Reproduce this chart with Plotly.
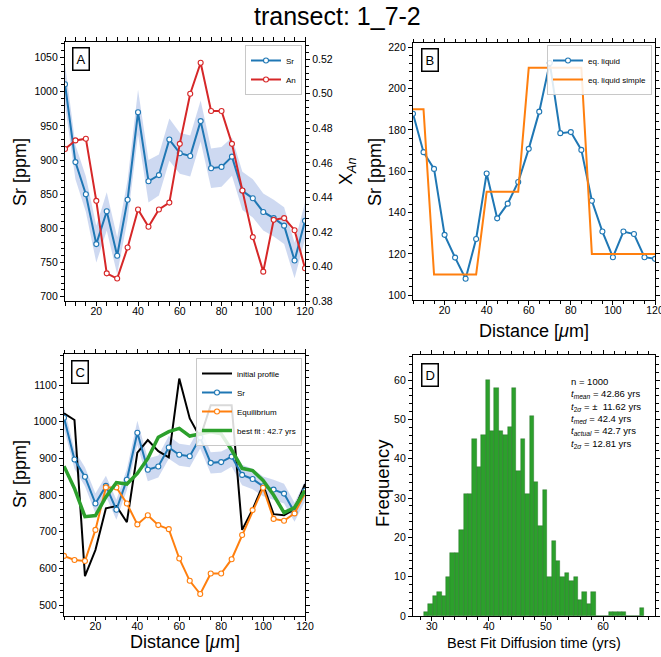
import plotly.graph_objects as go

W, H = 661, 657
FONT = "Liberation Sans, Arial, Helvetica, sans-serif"

# ---------------- data ----------------
distance = [5, 10, 15, 20, 25, 30, 35, 40, 45, 50, 55, 60,
            65, 70, 75, 80, 85, 90, 95, 100, 105, 110, 115, 120]

sr = [1011, 897, 850, 777, 825, 760, 842, 970, 869, 878, 930, 910,
      906, 957, 888, 890, 905, 855, 844, 824, 815, 804, 753, 811]
sr_err = [30, 25, 26, 27, 28, 27, 29, 33, 31, 30, 31, 30,
          30, 30, 29, 29, 28, 28, 28, 27, 27, 27, 26, 27]

an = [0.468, 0.473, 0.474, 0.438, 0.396, 0.393, 0.411, 0.433, 0.423, 0.433, 0.437, 0.471,
      0.500, 0.518, 0.490, 0.490, 0.471, 0.444, 0.417, 0.397, 0.427, 0.428, 0.421, 0.399]

eq_liquid = [187.8, 169.2, 161.1, 129.2, 118.2, 108.0, 127.2, 158.9, 137.2, 144.3, 154.8, 170.8,
             188.8, 212.3, 178.4, 178.9, 170.3, 145.7, 130.8, 118.4, 130.8, 129.6, 118.4, 117.6]
eq_liquid_simple = [190, 190, 110, 110, 110, 110, 110, 150, 150, 150, 150, 210,
                    210, 210, 210, 210, 210, 120, 120, 120, 120, 120, 120, 120]

initial_profile = [1023, 1005, 579, 650, 764, 770, 726, 916, 950, 920, 903, 1118,
                   1009, 957, 1045, 1045, 1045, 705, 761, 828, 748, 745, 761, 830]
equilibrium = [634, 623, 620, 705, 821, 821, 777, 720, 745, 718, 707, 627,
               566, 530, 586, 586, 625, 691, 759, 820, 735, 730, 750, 805]
best_fit = [879, 818, 741, 744, 795, 834, 830, 859, 900, 958, 973, 982,
            961, 966, 973, 967, 923, 873, 867, 840, 800, 752, 766, 812]

hist_counts = [1, 3, 5, 6, 5, 10, 16, 16, 22, 31, 31, 45, 38, 46, 60, 47, 58, 47, 46, 48,
               58, 37, 45, 31, 51, 34, 23, 32, 10, 19, 14, 10, 11, 9, 10, 4, 6, 3, 6, 0,
               0, 0, 1, 1, 1, 1, 0, 0, 0, 2]
hist_min, hist_max = 28.64, 67.17

stats_lines = ["n = 1000",
               "<i>t</i><sub><i>mean</i></sub> = 42.86 yrs",
               "<i>t</i><sub>2<i>σ</i></sub> = \u00b1  11.62 yrs",
               "<i>t</i><sub><i>med</i></sub> = 42.4 yrs",
               "<i>t</i><sub><i>actual</i></sub> = 42.7 yrs",
               "<i>t</i><sub>2<i>σ</i></sub> = 12.81 yrs"]

BLUE, RED, ORANGE, GREEN = "#1f77b4", "#d62728", "#ff7f0e", "#2ca02c"
BAND = "rgba(120,150,215,0.36)"


def px(x):
    return x / W


def py(y):
    return 1 - y / H


sr_up = [v + e for v, e in zip(sr, sr_err)]
sr_lo = [v - e for v, e in zip(sr, sr_err)]
band_x = distance + distance[::-1]
band_y = sr_up + sr_lo[::-1]

nb = len(hist_counts)
bw = (hist_max - hist_min) / nb
hist_centers = [hist_min + (i + 0.5) * bw for i in range(nb)]


def mk(color):
    return dict(symbol="circle", size=5, color="white", line=dict(color=color, width=1.1))


fig = go.Figure()

# ---- Panel A ----
fig.add_trace(go.Scatter(x=band_x, y=band_y, fill="toself", fillcolor=BAND, line=dict(width=0),
                         mode="lines", showlegend=False, hoverinfo="skip", xaxis="x", yaxis="y"))
fig.add_trace(go.Scatter(x=distance, y=sr, mode="lines+markers", name="Sr",
                         line=dict(color=BLUE, width=2), marker=mk(BLUE),
                         xaxis="x", yaxis="y", legend="legend"))
fig.add_trace(go.Scatter(x=distance, y=an, mode="lines+markers", name="An",
                         line=dict(color=RED, width=2), marker=mk(RED),
                         xaxis="x", yaxis="y2", legend="legend"))

# ---- Panel B ----
fig.add_trace(go.Scatter(x=distance, y=eq_liquid, mode="lines+markers", name="eq. liquid",
                         line=dict(color=BLUE, width=2), marker=mk(BLUE),
                         xaxis="x2", yaxis="y3", legend="legend2"))
fig.add_trace(go.Scatter(x=distance, y=eq_liquid_simple, mode="lines", name="eq. liquid simple",
                         line=dict(color=ORANGE, width=2),
                         xaxis="x2", yaxis="y3", legend="legend2"))

# ---- Panel C ----
fig.add_trace(go.Scatter(x=band_x, y=band_y, fill="toself", fillcolor=BAND, line=dict(width=0),
                         mode="lines", showlegend=False, hoverinfo="skip", xaxis="x3", yaxis="y4"))
fig.add_trace(go.Scatter(x=distance, y=initial_profile, mode="lines", name="initial profile",
                         line=dict(color="black", width=2),
                         xaxis="x3", yaxis="y4", legend="legend3"))
fig.add_trace(go.Scatter(x=distance, y=sr, mode="lines+markers", name="Sr",
                         line=dict(color=BLUE, width=2), marker=mk(BLUE),
                         xaxis="x3", yaxis="y4", legend="legend3"))
fig.add_trace(go.Scatter(x=distance, y=equilibrium, mode="lines+markers", name="Equilibrium",
                         line=dict(color=ORANGE, width=2), marker=mk(ORANGE),
                         xaxis="x3", yaxis="y4", legend="legend3"))
fig.add_trace(go.Scatter(x=distance, y=best_fit, mode="lines", name="best fit : 42.7 yrs",
                         line=dict(color=GREEN, width=3.5),
                         xaxis="x3", yaxis="y4", legend="legend3"))

# ---- Panel D ----
fig.add_trace(go.Bar(x=hist_centers, y=hist_counts, width=bw,
                     marker=dict(color=GREEN, line=dict(color="rgba(20,90,20,0.55)", width=0.6)),
                     showlegend=False, xaxis="x4", yaxis="y5"))

axis_common = dict(showline=True, linecolor="black", linewidth=1.2, ticks="outside", ticklen=4,
                   tickwidth=1, tickcolor="black", showgrid=False, zeroline=False,
                   tickfont=dict(size=10.5, color="black", family=FONT), automargin=False,
                   ticklabeloverflow="allow")
xaxis_common = dict(axis_common, ticklabelstandoff=-4)


def minor(dt):
    return dict(dtick=dt, ticks="outside", ticklen=2.5, tickwidth=0.8, tickcolor="black", showgrid=False)


# pixel frames
A = (65, 305, 42, 301)
B = (413, 655, 43, 300)
C = (64, 305, 354, 616)
D = (413, 655, 355, 616)


def dx(f):
    return [px(f[0]), px(f[1])]


def dy(f):
    return [py(f[3]), py(f[2])]


legend_common = dict(font=dict(size=8, family=FONT, color="black"), bgcolor="rgba(255,255,255,0.85)",
                     bordercolor="#c8c8c8", borderwidth=1, xanchor="right", yanchor="top",
                     itemwidth=30, tracegroupgap=0)

fig.update_layout(
    width=W, height=H, margin=dict(l=0, r=0, t=0, b=0),
    paper_bgcolor="white", plot_bgcolor="white",
    font=dict(family=FONT, color="black"),
    bargap=0,
    xaxis=dict(domain=dx(A), anchor="y", range=[5, 120], dtick=20, minor=minor(5), mirror="allticks", **xaxis_common),
    yaxis=dict(domain=dy(A), anchor="x", range=[693.7, 1072.8], dtick=50, minor=minor(10), mirror=False, **axis_common),
    yaxis2=dict(overlaying="y", side="right", anchor="x", range=[0.380, 0.530], dtick=0.02,
                tickformat=".2f", minor=minor(0.004), **axis_common),
    xaxis2=dict(domain=dx(B), anchor="y3", range=[5, 120], dtick=20, minor=minor(5), mirror="allticks", **xaxis_common),
    yaxis3=dict(domain=dy(B), anchor="x2", range=[97.7, 222], dtick=20, minor=minor(4), mirror="allticks", **axis_common),
    xaxis3=dict(domain=dx(C), anchor="y4", range=[5, 120], dtick=20, minor=minor(5), mirror="allticks", **xaxis_common),
    yaxis4=dict(domain=dy(C), anchor="x3", range=[470, 1185], dtick=100, minor=minor(20), mirror="allticks", **axis_common),
    xaxis4=dict(domain=dx(D), anchor="y5", range=[26.71, 69.1], dtick=10, minor=minor(2), mirror="allticks", **xaxis_common),
    yaxis5=dict(domain=dy(D), anchor="x4", range=[0, 66.4], dtick=10, minor=minor(2), mirror="allticks", **axis_common),
    legend=dict(x=px(302), y=py(45), **legend_common),
    legend2=dict(x=px(652), y=py(45), **legend_common),
    legend3=dict(x=px(302), y=py(358), **legend_common),
)

ann = []


def label(text, cx, cy, size, angle=0):
    ann.append(dict(text=text, x=px(cx), y=py(cy), xref="paper", yref="paper", showarrow=False,
                    xanchor="center", yanchor="middle", textangle=angle,
                    font=dict(size=size, family=FONT, color="black")))


label("transect: 1_7-2", 337, 16, 25)
label("Sr [ppm]", 20, 172, 18, -90)
label("X<sub><i>An</i></sub>", 347, 172, 18, -90)
label("Sr [ppm]", 375, 172, 18, -90)
label("Distance [<i>μ</i>m]", 534, 331, 18)
label("Sr [ppm]", 20, 474, 18, -90)
label("Distance [<i>μ</i>m]", 185, 642, 18)
label("Frequency", 382, 483, 18.5, -90)
label("Best Fit Diffusion time (yrs)", 534, 643, 14.5)

for t, cx, cy in [("A", 80.5, 59.5), ("B", 430, 60), ("C", 80, 372), ("D", 430, 375)]:
    ann.append(dict(text=t, x=px(cx), y=py(cy), xref="paper", yref="paper", showarrow=False,
                    xanchor="center", yanchor="middle", font=dict(size=13, family=FONT, color="black"),
                    bordercolor="black", borderwidth=1.5, borderpad=3, bgcolor="white"))

ann.append(dict(text="<br>".join(stats_lines), x=px(569), y=py(374), xref="paper", yref="paper",
                showarrow=False, xanchor="left", yanchor="top", align="left",
                font=dict(size=9.5, family=FONT, color="black")))

fig.update_layout(annotations=ann)
fig.write_html("out.html")
